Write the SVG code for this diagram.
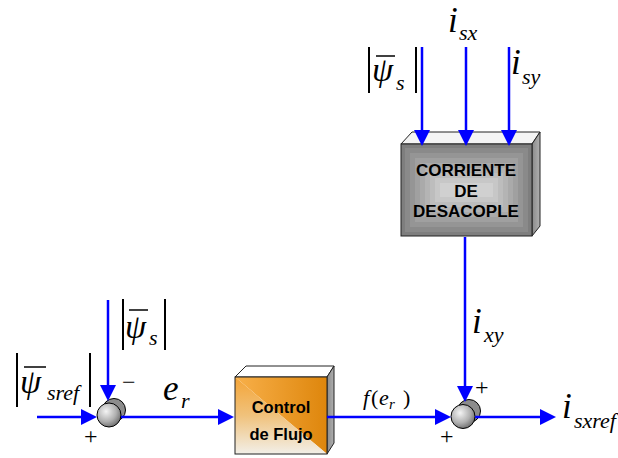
<svg xmlns="http://www.w3.org/2000/svg" width="618" height="458" viewBox="0 0 618 458">
<style>
.wire{stroke:#0000ff;stroke-width:2.5;fill:none}
.head{fill:#0000ff}
.m{font-family:"Liberation Serif","Times New Roman",serif;font-style:italic;fill:#000}
.big{font-size:35px}
.psi{font-size:34px}
.sub{font-size:22px}
.up{font-family:"Liberation Serif","Times New Roman",serif;fill:#000}
.bar{stroke:#000;stroke-width:2}
.ob{stroke:#000;stroke-width:1.5}
.blk{font-family:"Liberation Sans",Arial,sans-serif;font-weight:bold;fill:#000;text-anchor:middle}
.edge{stroke:#222;stroke-width:1}
</style>
<defs>
<radialGradient id="ball" cx="0.38" cy="0.35" r="0.7">
<stop offset="0" stop-color="#f4f4f4"/>
<stop offset="0.6" stop-color="#b0b0b0"/>
<stop offset="1" stop-color="#6a6a6a"/>
</radialGradient>
<linearGradient id="orH" x1="0" y1="0" x2="1" y2="0">
<stop offset="0" stop-color="#f8b04a"/>
<stop offset="1" stop-color="#de860c"/>
</linearGradient>
<linearGradient id="orV" x1="0" y1="0" x2="0" y2="1">
<stop offset="0" stop-color="#f4a436"/>
<stop offset="0.5" stop-color="#f0c27c"/>
<stop offset="1" stop-color="#f2efe8"/>
</linearGradient>
<linearGradient id="side" x1="0" y1="0" x2="1" y2="0">
<stop offset="0" stop-color="#8a8a8a"/>
<stop offset="1" stop-color="#b0b0b0"/>
</linearGradient>
</defs>

<g id="node-corriente">
<polygon points="401,144 412,132 540,132 532,144" fill="#f4f4f4" class="edge"/>
<polygon points="532,144 540,132 540,226 532,236" fill="url(#side)" class="edge"/>
<rect x="401" y="144" width="131" height="92" fill="#7e7e7e" class="edge"/>
<rect x="405" y="148" width="123" height="84" fill="#8a8a8a"/>
<rect x="410" y="153" width="113" height="74" fill="#959595"/>
<rect x="415" y="158" width="103" height="64" fill="#a0a0a0"/>
<rect x="420" y="163" width="93" height="54" fill="#aaaaaa"/>
<rect x="425" y="168" width="83" height="44" fill="#b4b4b4"/>
<rect x="430" y="173" width="73" height="34" fill="#bdbdbd"/>
<rect x="435" y="178" width="63" height="24" fill="#c7c7c7"/>
<rect x="440" y="183" width="53" height="14" fill="#d0d0d0"/>
<text class="blk" x="466" y="176" font-size="17">CORRIENTE</text>
<text class="blk" x="466" y="197" font-size="17">DE</text>
<text class="blk" x="466" y="217" font-size="17">DESACOPLE</text>
</g>

<g id="node-control">
<polygon points="235,377 246,366 334,366 327,377" fill="#ffffff" class="edge"/>
<polygon points="327,377 334,366 334,443 327,454" fill="url(#side)" class="edge"/>
<polygon points="235,377 327,377 327,454" fill="url(#orH)"/>
<polygon points="235,377 235,454 327,454" fill="url(#orV)"/>
<rect x="235" y="377" width="92" height="77" fill="none" class="edge"/>
<text class="blk" x="281" y="413" font-size="16.5">Control</text>
<text class="blk" x="281" y="440" font-size="16.5">de Flujo</text>
</g>

<g id="node-sum1">
<circle cx="114" cy="410" r="11.5" fill="#8c8c8c" stroke="#000" stroke-width="1"/>
<circle cx="109" cy="415" r="12" fill="url(#ball)" stroke="#000" stroke-width="1"/>
</g>
<g id="node-sum2">
<circle cx="469" cy="411" r="11.5" fill="#8c8c8c" stroke="#000" stroke-width="1"/>
<circle cx="463" cy="416.5" r="12" fill="url(#ball)" stroke="#000" stroke-width="1"/>
</g>

<g id="connectors">
<line class="wire" x1="422" y1="47" x2="422" y2="134"/>
<polygon class="head" points="422,146 414,130 430,130"/>
<line class="wire" x1="466" y1="47" x2="466" y2="134"/>
<polygon class="head" points="466,146 458,130 474,130"/>
<line class="wire" x1="509" y1="47" x2="509" y2="134"/>
<polygon class="head" points="509,146 501,130 517,130"/>
<line class="wire" x1="465" y1="237" x2="465" y2="389"/>
<polygon class="head" points="465,402 457,386 473,386"/>
<line class="wire" x1="108" y1="300" x2="108" y2="388"/>
<polygon class="head" points="108,401 100,385 116,385"/>
<line class="wire" x1="37" y1="417" x2="84" y2="417"/>
<polygon class="head" points="97,417 81,409 81,425"/>
<line class="wire" x1="121" y1="417" x2="220" y2="417"/>
<polygon class="head" points="234,417 218,409 218,425"/>
<line class="wire" x1="327" y1="417" x2="438" y2="417"/>
<polygon class="head" points="451,417 435,409 435,425"/>
<line class="wire" x1="475" y1="417" x2="542" y2="417"/>
<polygon class="head" points="556,417 540,409 540,425"/>
</g>

<g id="labels">
<line class="bar" x1="17" y1="353" x2="17" y2="407"/>
<line class="bar" x1="90" y1="353" x2="90" y2="407"/>
<line class="ob" x1="24" y1="367" x2="46" y2="367"/>
<text class="m psi" x="20" y="393">ψ</text>
<text class="m sub" x="47" y="400">sref</text>

<line class="bar" x1="123" y1="299" x2="123" y2="350"/>
<line class="bar" x1="165" y1="299" x2="165" y2="350"/>
<line class="ob" x1="129" y1="310" x2="148" y2="310"/>
<text class="m psi" x="125" y="338">ψ</text>
<text class="m sub" x="149" y="345">s</text>

<line class="bar" x1="369" y1="47" x2="369" y2="93"/>
<line class="bar" x1="416" y1="47" x2="416" y2="93"/>
<line class="ob" x1="376" y1="56" x2="395" y2="56"/>
<text class="m psi" x="372" y="81">ψ</text>
<text class="m sub" x="396" y="90">s</text>

<text class="m big" x="448" y="32">i</text>
<text class="m sub" x="459" y="40">sx</text>
<text class="m big" x="511" y="74">i</text>
<text class="m sub" x="522" y="84">sy</text>
<text class="m big" x="472" y="333">i</text>
<text class="m sub" x="484" y="342">xy</text>
<text class="m big" x="562" y="418">i</text>
<text class="m sub" x="574" y="428">sxref</text>

<text class="m big" x="163" y="400">e</text>
<text class="m sub" x="181" y="408">r</text>

<text class="m" x="363" y="405" font-size="22">f</text>
<text class="up" x="371" y="405" font-size="22">(</text>
<text class="m" x="379" y="405" font-size="22">e</text>
<text class="m" x="389" y="409" font-size="15">r</text>
<text class="up" x="403" y="405" font-size="22">)</text>

<text class="up" x="122" y="390" font-size="24">−</text>
<text class="up" x="84" y="444" font-size="24">+</text>
<text class="up" x="475" y="395" font-size="24">+</text>
<text class="up" x="440" y="444" font-size="24">+</text>
</g>
</svg>
